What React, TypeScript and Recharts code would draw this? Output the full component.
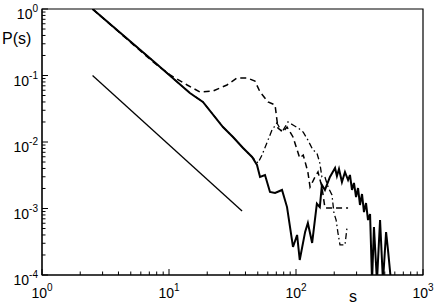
import { LineChart, Line, XAxis, YAxis, ReferenceArea } from 'recharts';

// cluster size s and probability P(s)
const solidS = [2.5, 7.35, 14.6, 18.5, 26.6, 31.9, 38.3, 45.1, 49.3, 52.1, 57.0, 62.4, 68.4, 77.6, 85.0, 94.7, 102, 107, 118, 124, 134, 146, 154, 160, 169, 185, 203, 210, 218, 230, 243, 257, 266, 276, 286, 297, 308, 319, 331, 343, 356, 369, 383, 397, 411, 434, 459, 484, 512, 530, 560];
const solidP = [1.0, 0.171, 0.0546, 0.040, 0.0168, 0.0119, 0.00812, 0.00595, 0.00451, 0.00298, 0.00319, 0.00177, 0.00171, 0.0019, 0.00105, 0.000264, 0.0004, 0.000168, 0.000445, 0.000605, 0.000303, 0.00118, 0.00105, 0.00226, 0.0019, 0.00298, 0.00406, 0.00308, 0.00392, 0.0025, 0.00354, 0.00268, 0.00319, 0.0019, 0.00242, 0.00149, 0.00203, 0.00113, 0.00165, 0.000885, 0.00121, 0.000671, 0.000826, 0.00008, 0.000527, 0.00008, 0.000671, 0.00008, 0.000443, 0.000238, 0.00008];

const dashS = [2.5, 7.35, 10.2, 13.9, 17.5, 22.2, 28.6, 34.3, 41.1, 47.5, 52.1, 60.2, 68.4, 72.1, 79.0, 85.0, 94.7, 107, 114, 124, 129, 141, 149, 160, 169, 257];
const dashP = [1.0, 0.165, 0.102, 0.072, 0.0565, 0.0585, 0.072, 0.0917, 0.0917, 0.0826, 0.0565, 0.040, 0.036, 0.0162, 0.0141, 0.0168, 0.0119, 0.00574, 0.00638, 0.00354, 0.0021, 0.00298, 0.00354, 0.0021, 0.00102, 0.00102];

const dotDashS = [2.5, 7.35, 14.6, 18.5, 26.6, 31.9, 38.3, 45.1, 50.2, 54.0, 60.2, 64.7, 70.8, 77.6, 81.9, 86.5, 94.7, 104, 114, 124, 136, 146, 154, 160, 169, 179, 192, 199, 207, 214, 222, 243, 252];
const dotDashP = [1.0, 0.171, 0.0546, 0.040, 0.0168, 0.0119, 0.00812, 0.00595, 0.00483, 0.00638, 0.0107, 0.0151, 0.0193, 0.0141, 0.0168, 0.020, 0.018, 0.0162, 0.0141, 0.0107, 0.00758, 0.00683, 0.00483, 0.00298, 0.00298, 0.0021, 0.0016, 0.000855, 0.000671, 0.000428, 0.000283, 0.000283, 0.000509];

const guideS = [2.5, 37.6];
const guideP = [0.1, 0.00092];

const xTicks = [1, 2, 3, 4, 5, 6, 7, 8, 9, 10, 20, 30, 40, 50, 60, 70, 80, 90, 100, 200, 300, 400, 500, 600, 700, 800, 900, 1000];
const yTicks = [0.0001, 0.0002, 0.0003, 0.0004, 0.0005, 0.0006, 0.0007, 0.0008, 0.0009, 0.001, 0.002, 0.003, 0.004, 0.005, 0.006, 0.007, 0.008, 0.009, 0.01, 0.02, 0.03, 0.04, 0.05, 0.06, 0.07, 0.08, 0.09, 0.1, 0.2, 0.3, 0.4, 0.5, 0.6, 0.7, 0.8, 0.9, 1];

const zip = (s: number[], p: number[]) => s.map((v, i) => ({ s: v, p: p[i] }));

const W = 436;
const H = 305;
const LEFT = 42;
const BOTTOM = 275;

const exponent = (v: number) => {
  const l = Math.log10(v);
  const e = Math.round(l);
  return Math.abs(l - e) < 1e-6 ? e : null;
};

const XTick = ({ x, payload }: any) => {
  const e = exponent(payload.value);
  return (
    <g>
      <line x1={x} x2={x} y1={BOTTOM} y2={BOTTOM - (e !== null ? 6 : 3.5)} stroke="#000" />
      {e !== null && (
        <text x={x} y={298} textAnchor="middle" fontSize={14} fill="#000">
          10<tspan dy={-7} fontSize={10}>{e}</tspan>
        </text>
      )}
    </g>
  );
};

const YTick = ({ y, payload }: any) => {
  const e = exponent(payload.value);
  return (
    <g>
      <line x1={LEFT} x2={LEFT + (e !== null ? 6 : 3.5)} y1={y} y2={y} stroke="#000" />
      {e !== null && (
        <text x={38} y={y + 10} textAnchor="end" fontSize={14} fill="#000">
          10<tspan dy={-7} fontSize={10}>{e}</tspan>
        </text>
      )}
    </g>
  );
};

export default function App() {
  return (
    <div style={{ position: 'relative', width: W, height: H, fontFamily: '"Liberation Sans", Arial, sans-serif' }}>
      <style>{'body{margin:0}'}</style>
      <LineChart width={W} height={H} margin={{ top: 9, right: 13, left: 0, bottom: 0 }}>
        <XAxis
          dataKey="s"
          type="number"
          scale="log"
          domain={[1, 1000]}
          allowDataOverflow
          ticks={xTicks}
          interval={0}
          tickLine={false}
          tick={<XTick />}
          height={30}
          stroke="#000"
        />
        <YAxis
          dataKey="p"
          type="number"
          scale="log"
          domain={[0.0001, 1]}
          allowDataOverflow
          ticks={yTicks}
          interval={0}
          tickLine={false}
          tick={<YTick />}
          width={LEFT}
          stroke="#000"
        />
        <ReferenceArea x1={1} x2={1000} y1={0.0001} y2={1} fill="none" stroke="#000" strokeWidth={1.2} ifOverflow="visible" />
        <Line data={zip(guideS, guideP)} dataKey="p" stroke="#000" strokeWidth={1.3} dot={false} isAnimationActive={false} />
        <Line data={zip(dashS, dashP)} dataKey="p" stroke="#000" strokeWidth={1.5} strokeDasharray="6 4" dot={false} isAnimationActive={false} />
        <Line data={zip(dotDashS, dotDashP)} dataKey="p" stroke="#000" strokeWidth={1.3} strokeDasharray="6 3 1.5 3" dot={false} isAnimationActive={false} />
        <Line data={zip(solidS, solidP)} dataKey="p" stroke="#000" strokeWidth={2} dot={false} isAnimationActive={false} />
      </LineChart>
      <div style={{ position: 'absolute', left: 2, top: 29, fontSize: 16, lineHeight: '20px' }}>P(s)</div>
      <div style={{ position: 'absolute', left: 349, top: 287, fontSize: 16, lineHeight: '20px' }}>s</div>
    </div>
  );
}
